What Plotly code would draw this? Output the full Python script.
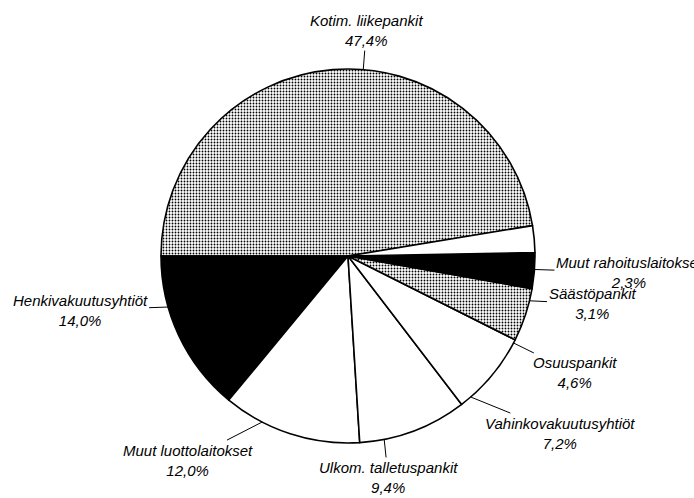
import math
import plotly.graph_objects as go

# Slices in drawing order (counterclockwise, starting at 3 o'clock)
labels = ["Kotim. liikepankit", "Henkivakuutusyhtiöt", "Muut luottolaitokset",
          "Ulkom. talletuspankit", "Vahinkovakuutusyhtiöt", "Osuuspankit",
          "Säästöpankit", "Muut rahoituslaitokset"]
shares = [47.4, 14.0, 12.0, 9.4, 7.2, 4.6, 3.1, 2.3]
fills = ["grey", "black", "white", "white", "white", "grey", "black", "white"]

# label offsets (pixels) from the rim point where the leader line ends
label_dx = [3, -88, -74, 4, 89, 61, 63, 95]
label_dy = [-39, 3, 38, 38, 36, 30, 3, 3]

W, H = 694, 498
CX, CY, R = 348, 256, 187
START = 0  # degrees, counterclockwise from east

fill_colors = {"grey": "#ffffff", "black": "#000000", "white": "#ffffff"}
patterns = {"grey": ".", "black": "", "white": ""}

fig = go.Figure()
fig.add_trace(go.Pie(
    labels=labels,
    values=shares,
    sort=False,
    direction="counterclockwise",
    rotation=START - 90,
    textinfo="none",
    hoverinfo="label+percent",
    showlegend=False,
    marker=dict(
        colors=[fill_colors[f] for f in fills],
        line=dict(color="black", width=1.6),
        pattern=dict(
            shape=[patterns[f] for f in fills],
            fgcolor="#000000",
            bgcolor="#ffffff",
            size=3,
            solidity=0.3,
        ),
    ),
    domain=dict(x=[(CX - R) / W, (CX + R) / W],
                y=[(H - CY - R) / H, (H - CY + R) / H]),
))

# leader lines + labels at the middle of each slice
total = sum(shares)
acc = 0.0
for name, v, dx, dy in zip(labels, shares, label_dx, label_dy):
    mid = math.radians(START + (acc + v / 2) / total * 360)
    acc += v
    px = CX + R * math.cos(mid)
    py = CY - R * math.sin(mid)
    pct = f"{v:.1f}".replace(".", ",") + "%"
    fig.add_annotation(
        x=px / W, y=1 - py / H, xref="paper", yref="paper",
        ax=dx, ay=dy,
        text=f"{name}<br>{pct}",
        showarrow=True, arrowhead=0, arrowwidth=1, arrowcolor="black",
        standoff=0, startstandoff=0,
        font=dict(family="Liberation Sans, Arial, sans-serif", size=15,
                  color="black", style="italic"),
        align="center",
    )

fig.update_layout(
    width=W, height=H,
    margin=dict(l=0, r=0, t=0, b=0),
    paper_bgcolor="white",
    plot_bgcolor="white",
)

# drop the page's default body margin so the figure sits at the window corner
fig.write_html("out.html", config={"displayModeBar": False},
               post_script="document.body.style.margin='0';")
